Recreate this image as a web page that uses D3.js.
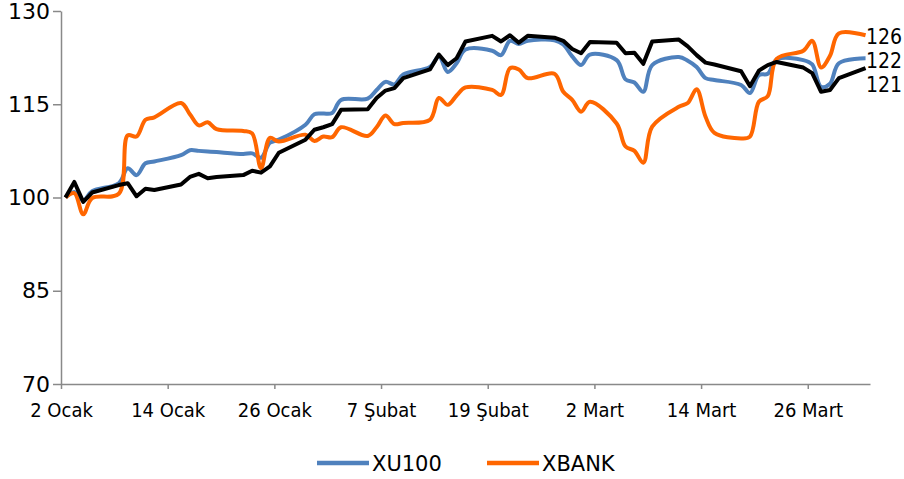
<!DOCTYPE html>
<html>
<head>
<meta charset="utf-8">
<script src="https://cdn.jsdelivr.net/npm/d3@7/dist/d3.min.js"></script>
<style>
  body { margin: 0; background: #fff; }
  svg text { font-family: "DejaVu Sans", sans-serif; fill: #000; }
</style>
</head>
<body>
<svg id="chart" width="904" height="479"></svg>
<script>
// trading days, Q1
const dates = [
  "2024-01-02","2024-01-03","2024-01-04","2024-01-05",
  "2024-01-08","2024-01-09","2024-01-10","2024-01-11","2024-01-12",
  "2024-01-15","2024-01-16","2024-01-17","2024-01-18","2024-01-19",
  "2024-01-22","2024-01-23","2024-01-24","2024-01-25","2024-01-26",
  "2024-01-29","2024-01-30","2024-01-31","2024-02-01","2024-02-02",
  "2024-02-05","2024-02-06","2024-02-07","2024-02-08","2024-02-09",
  "2024-02-12","2024-02-13","2024-02-14","2024-02-15","2024-02-16",
  "2024-02-19","2024-02-20","2024-02-21","2024-02-22","2024-02-23",
  "2024-02-26","2024-02-27","2024-02-28","2024-02-29","2024-03-01",
  "2024-03-04","2024-03-05","2024-03-06","2024-03-07","2024-03-08",
  "2024-03-11","2024-03-12","2024-03-13","2024-03-14","2024-03-15",
  "2024-03-18","2024-03-19","2024-03-20","2024-03-21","2024-03-22",
  "2024-03-25","2024-03-26","2024-03-27","2024-03-28","2024-03-29",
  "2024-04-01"
]

const xu100 = [
  100, 100.9, 99.5, 101.0,
  102.3, 104.7, 103.6, 105.5, 105.8,
  106.8, 107.6, 107.5, 107.4, 107.3,
  107.0, 107.1, 106.4, 108.8, 109.3,
  111.7, 113.4, 113.5, 113.6, 115.7,
  115.9, 117.3, 118.6, 118.2, 119.8,
  121.0, 122.7, 120.2, 121.6, 123.8,
  123.6, 122.9, 125.2, 124.7, 125.2,
  125.3, 124.6, 122.7, 121.3, 123.0,
  122.1, 119.0, 118.5, 117.0, 121.3,
  122.6, 122.0, 121.0, 119.2, 118.9,
  118.1, 116.8, 119.7, 119.9, 122.2,
  122.1, 121.4, 117.8, 118.3, 121.6,
  122.4
]

const xbank = [
  100, 100.7, 97.3, 99.9,
  100.6, 110.0, 109.8, 112.5, 112.9,
  115.2, 113.4, 111.6, 112.1, 111.0,
  110.7, 110.3, 104.7, 109.6, 109.0,
  110.1, 109.1, 109.8, 109.7, 111.3,
  109.9, 111.3, 113.2, 111.8, 112.0,
  112.5, 116.0, 114.9, 116.4, 117.7,
  117.3, 116.5, 120.8, 120.6, 119.2,
  119.9, 117.0, 115.7, 113.8, 115.4,
  111.9, 108.2, 107.5, 105.6, 111.4,
  114.6, 115.2, 117.4, 113.0, 110.4,
  109.5, 109.8, 115.4, 116.3, 122.3,
  123.6, 125.2, 120.9, 122.8, 126.4,
  126.1
]

// third series (black), not in the legend
const other = [
  100, 102.5, 99.3, 100.8,
  102.0, 102.3, 100.2, 101.4, 101.2,
  102.1, 103.3, 103.8, 103.1, 103.3,
  103.6, 104.3, 104.0, 105.0, 107.2,
  109.3, 110.9, 111.3, 111.8, 114.1,
  114.2, 116.0, 117.2, 117.6, 119.2,
  120.6, 123.0, 121.3, 122.4, 125.1,
  126.0, 125.1, 126.1, 124.9, 126.0,
  125.7, 125.2, 123.9, 123.2, 125.0,
  124.9, 123.2, 123.3, 121.5, 125.1,
  125.4, 124.3, 122.9, 121.7, 121.4,
  120.3, 117.9, 120.4, 121.3, 121.8,
  120.9, 120.0, 117.0, 117.3, 119.2,
  120.8
]

const tickDates = ["2024-01-02","2024-01-14","2024-01-26","2024-02-07","2024-02-19","2024-03-02","2024-03-14","2024-03-26"]
const tickLabels = ["2 Ocak","14 Ocak","26 Ocak","7 Şubat","19 Şubat","2 Mart","14 Mart","26 Mart"]
const yTicks = [70, 85, 100, 115, 130]
const endLabels = ["126", "122", "121"]

const parse = d3.utcParse("%Y-%m-%d")
const axisColor = "#898989"

const svg = d3.select("#chart")
const plot = { left: 61, right: 870, top: 11, bottom: 384 }

// each day is a slot, the point sits in its middle
const x = d3.scaleUtc()
  .domain([parse(dates[0]), d3.utcDay.offset(parse(dates[dates.length - 1]), 1)])
  .range([plot.left, plot.right])
const y = d3.scaleLinear().domain([70, 130]).range([plot.bottom, plot.top])

const mid = d => d3.utcHour.offset(parse(d), 12)

// axes
const yAxis = svg.append("g")
  .attr("transform", `translate(${plot.left},0)`)
  .call(d3.axisLeft(y).tickValues(yTicks).tickSize(8).tickSizeOuter(0).tickPadding(3))
yAxis.selectAll("text").style("font-size", "22px")

const xAxis = svg.append("g")
  .attr("transform", `translate(0,${plot.bottom})`)
  .call(d3.axisBottom(x)
    .tickValues(tickDates.map(parse))
    .tickFormat((d, i) => tickLabels[i])
    .tickSize(5).tickSizeOuter(0).tickPadding(14))
xAxis.selectAll("text")
  .style("font-family", '"DejaVu Sans Condensed", "DejaVu Sans", sans-serif')
  .style("font-stretch", "condensed")
  .style("font-size", "20px")

for (const g of [xAxis, yAxis]) {
  g.select(".domain").attr("stroke", axisColor).attr("stroke-width", 1.5)
  g.selectAll(".tick line").attr("stroke", axisColor).attr("stroke-width", 1.5)
}

// lines
const series = [
  { name: "XU100", values: xu100, color: "#4F81BD", curve: d3.curveCatmullRom },
  { name: "XBANK", values: xbank, color: "#FF6600", curve: d3.curveCatmullRom },
  { name: "", values: other, color: "#000000", curve: d3.curveLinear }
]

for (const s of series) {
  const line = d3.line()
    .x((d, i) => x(mid(dates[i])))
    .y(d => y(d))
    .curve(s.curve)
  svg.append("path")
     .attr("d", line(s.values))
     .attr("fill", "none")
     .attr("stroke", s.color)
     .attr("stroke-width", 4)
     .attr("stroke-linejoin", "round")
}

// end labels, pushed apart so they don't overlap
const ends = [xbank, xu100, other].map((v, i) => ({ text: endLabels[i], y: y(v[v.length - 1]) }))
ends.sort((a, b) => a.y - b.y)
for (let i = 1; i < ends.length; i++) {
  if (ends[i].y - ends[i - 1].y < 24) ends[i].y = ends[i - 1].y + 24
}
svg.selectAll(".endlabel")
   .data(ends)
   .join("text")
   .attr("class", "endlabel")
   .attr("x", 866)
   .attr("y", d => d.y + 1)
   .attr("dy", "0.36em")
   .style("font-family", '"DejaVu Sans Condensed", "DejaVu Sans", sans-serif')
   .style("font-stretch", "condensed")
   .style("font-size", "21px")
   .text(d => d.text)

// legend
const legend = svg.append("g").attr("transform", "translate(0,463)")
const legendItems = [
  { name: "XU100", color: "#4F81BD", x: 317 },
  { name: "XBANK", color: "#FF6600", x: 487 }
]
for (const it of legendItems) {
  legend.append("line")
        .attr("x1", it.x).attr("x2", it.x + 52)
        .attr("y1", 0).attr("y2", 0)
        .attr("stroke", it.color)
        .attr("stroke-width", 4.5)
  legend.append("text")
        .attr("x", it.x + 55)
        .attr("dy", "0.36em")
        .style("font-size", "21px")
        .text(it.name)
}
</script>
</body>
</html>
